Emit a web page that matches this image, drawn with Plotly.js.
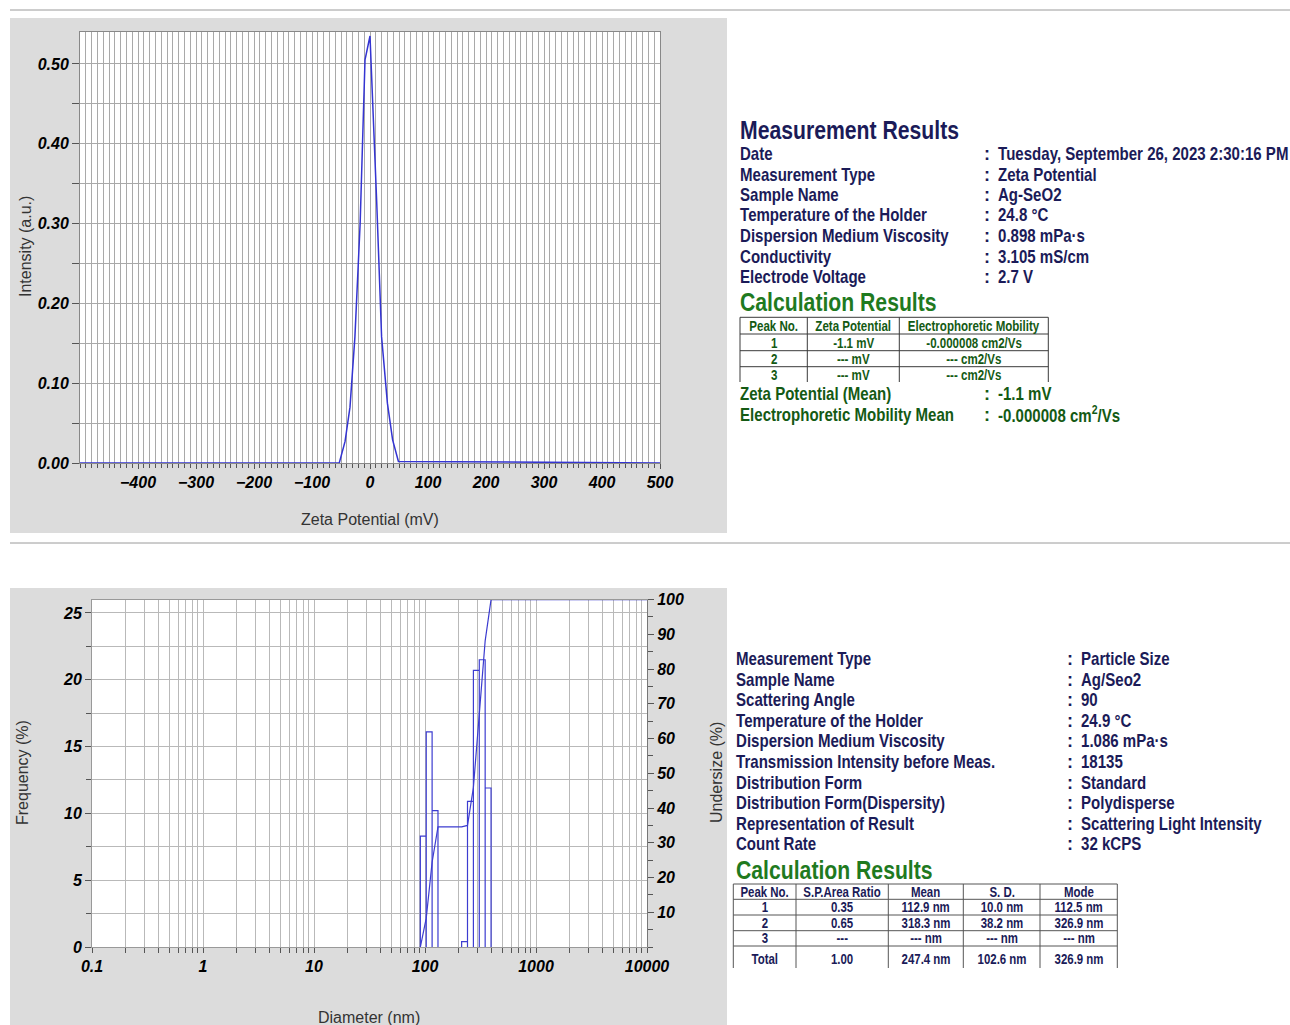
<!DOCTYPE html>
<html>
<head>
<meta charset="utf-8">
<script src="https://cdn.plot.ly/plotly-3.0.1.min.js"></script>
<style>
  html, body { margin: 0; padding: 0; background: #ffffff; }
  #chart { width: 1290px; height: 1025px; }
</style>
</head>
<body>
<div id="chart"></div>
<script>
// ---------------- DATA ----------------
// Zeta potential distribution
const zetaPotential = [-500, -53, -43, -34.5, -26, -17, -8.6, 0, 11.5, 20, 30, 39, 49, 500];
const intensity     = [0, 0, 0.027, 0.07, 0.158, 0.30, 0.505, 0.535, 0.328, 0.158, 0.075, 0.029, 0.002, 0];
const zetaTickValues = [-400, -300, -200, -100, 0, 100, 200, 300, 400, 500];

// Particle size distribution (histogram bins, nm)
const sizeBinEdges = [90.8, 102.6, 115.9, 130.9, 147.9, 167.5, 189.2, 213.8, 241.5, 272.9, 308.3, 348.3, 393.6];
const frequency    = [8.3, 16.1, 10.2, 0, 0, 0, 0, 0.4, 10.9, 20.7, 21.5, 11.9];
const undersizeDiameter = [90.8, 102.6, 115.9, 130.9, 213.8, 241.5, 272.9, 308.3, 348.3, 393.6, 10000];
const undersize         = [0, 8.3, 24.4, 34.6, 34.6, 35.0, 45.9, 66.6, 88.1, 100, 100];
const diameterDecades = [0.1, 1, 10, 100, 1000, 10000];
const diameterDecadeLabels = ['0.1', '1', '10', '100', '1000', '10000'];
const undersizeTickValues = [10, 20, 30, 40, 50, 60, 70, 80, 90, 100];

// Text blocks
const zetaInfoLabels = ['Date', 'Measurement Type', 'Sample Name', 'Temperature of the Holder',
  'Dispersion Medium Viscosity', 'Conductivity', 'Electrode Voltage'];
const zetaInfoValues = ['Tuesday, September 26, 2023 2:30:16 PM', 'Zeta Potential', 'Ag-SeO2', '24.8 °C',
  '0.898 mPa·s', '3.105 mS/cm', '2.7 V'];
const zetaTableHeader = ['Peak No.', 'Zeta Potential', 'Electrophoretic Mobility'];
const zetaTableRows = [['1', '-1.1 mV', '-0.000008 cm2/Vs'], ['2', '--- mV', '--- cm2/Vs'], ['3', '--- mV', '--- cm2/Vs']];
const zetaMeanLabels = ['Zeta Potential (Mean)', 'Electrophoretic Mobility Mean'];
const zetaMeanValues = ['-1.1 mV', '-0.000008 cm<sup>2</sup>/Vs'];

const sizeInfoLabels = ['Measurement Type', 'Sample Name', 'Scattering Angle', 'Temperature of the Holder',
  'Dispersion Medium Viscosity', 'Transmission Intensity before Meas.', 'Distribution Form',
  'Distribution Form(Dispersity)', 'Representation of Result', 'Count Rate'];
const sizeInfoValues = ['Particle Size', 'Ag/Seo2', '90', '24.9 °C', '1.086 mPa·s', '18135', 'Standard',
  'Polydisperse', 'Scattering Light Intensity', '32 kCPS'];
const sizeTableHeader = ['Peak No.', 'S.P.Area Ratio', 'Mean', 'S. D.', 'Mode'];
const sizeTableRows = [
  ['1', '0.35', '112.9 nm', '10.0 nm', '112.5 nm'],
  ['2', '0.65', '318.3 nm', '38.2 nm', '326.9 nm'],
  ['3', '---', '--- nm', '--- nm', '--- nm'],
  ['Total', '1.00', '247.4 nm', '102.6 nm', '326.9 nm']
];

// ---------------- LAYOUT HELPERS ----------------
const W = 1290, H = 1025;
const X = px => px / W;
const Y = py => 1 - py / H;

const BOLD = "'Liberation Sans', Arial, sans-serif";
const SANS = "'Liberation Sans', Arial, sans-serif";
const NAVY = '#1b1b58';
const GREEN = '#1f7a1f';
const DGREEN = '#145a14';

const tickFont = {family: SANS, size: 16, color: '#000', weight: 'bold', style: 'italic'};

const shapes = [];
const annotations = [];
const narrowIdx = {};   // annotation index -> [anchor type, horizontal scale]

function rect(x0, y0, x1, y1, color) {
  shapes.push({type: 'rect', xref: 'paper', yref: 'paper', layer: 'below',
    x0: X(x0), x1: X(x1), y0: Y(y1), y1: Y(y0), fillcolor: color, line: {width: 0}});
}
function line(x0, y0, x1, y1, color, w) {
  shapes.push({type: 'line', xref: 'paper', yref: 'paper', layer: 'above',
    x0: X(x0), x1: X(x1), y0: Y(y0), y1: Y(y1), line: {color: color, width: w || 1}});
}
function text(t, x, y, opts) {
  opts = opts || {};
  const anchor = opts.anchor || 'left';
  if (opts.scale) narrowIdx[annotations.length] = [anchor, opts.scale];
  annotations.push({text: t, xref: 'paper', yref: 'paper', x: X(x), y: Y(y),
    xanchor: anchor, yanchor: 'middle', showarrow: false,
    textangle: opts.angle || 0, borderpad: 0,
    font: {family: opts.family || BOLD, size: opts.size || 18, color: opts.color || NAVY,
      weight: opts.weight || 'bold'}});
}

// Panels and separators
rect(10, 18, 727, 533, '#dcdcdc');
rect(10, 588, 727, 1025, '#dcdcdc');
rect(80, 32, 660, 463, '#ffffff');
rect(92, 600, 647, 947, '#ffffff');
line(10, 10, 1290, 10, '#9a9a9a', 1);
line(10, 543, 1290, 543, '#9a9a9a', 1);

// Axis titles
text('Intensity (a.u.)', 25, 247, {family: SANS, size: 16, color: '#333', weight: 'normal', angle: -90, anchor: 'center'});
text('Zeta Potential (mV)', 370, 519, {family: SANS, size: 16, color: '#333', weight: 'normal', anchor: 'center'});
text('Frequency (%)', 22, 773, {family: SANS, size: 16, color: '#333', weight: 'normal', angle: -90, anchor: 'center'});
text('Undersize (%)', 716, 773, {family: SANS, size: 16, color: '#333', weight: 'normal', angle: -90, anchor: 'center'});
text('Diameter (nm)', 369, 1017, {family: SANS, size: 16, color: '#333', weight: 'normal', anchor: 'center'});

const S_INFO = 0.836, S_TITLE = 0.815;

// Top text block
text('Measurement Results', 739, 130, {size: 26, color: NAVY, scale: S_TITLE});
zetaInfoLabels.forEach((l, i) => {
  const y = 154 + i * 20.5;
  text(l, 739, y, {scale: S_INFO});
  text(':', 983, y);
  text(zetaInfoValues[i], 997, y, {scale: S_INFO});
});
text('Calculation Results', 739, 302, {size: 26, color: GREEN, scale: S_TITLE});
// top table
[317.3, 334, 350.7, 366.7].forEach(y => line(740, y, 1048.3, y, '#3a3a3a', 1));
[740, 807.3, 899.3, 1048.3].forEach(x => line(x, 317.3, x, 382, '#3a3a3a', 1));
const zCols = [773.7, 853.3, 973.8];
const zRows = [325.7, 342.3, 358.7, 374.3];
zetaTableHeader.forEach((t, j) => text(t, zCols[j], zRows[0], {size: 15, color: DGREEN, anchor: 'center', scale: 0.77}));
zetaTableRows.forEach((r, i) => r.forEach((t, j) => text(t, zCols[j], zRows[i + 1], {size: 15, color: DGREEN, anchor: 'center', scale: 0.77})));
zetaMeanLabels.forEach((l, i) => {
  const y = 394 + i * 20.5;
  text(l, 739, y, {color: DGREEN, scale: S_INFO});
  text(':', 983, y, {color: DGREEN});
  text(zetaMeanValues[i], 997, y, {color: DGREEN, scale: S_INFO});
});

// Bottom text block
sizeInfoLabels.forEach((l, i) => {
  const y = 659 + i * 20.6;
  text(l, 735, y, {scale: S_INFO});
  text(':', 1066, y);
  text(sizeInfoValues[i], 1080, y, {scale: S_INFO});
});
text('Calculation Results', 735, 870, {size: 26, color: GREEN, scale: S_TITLE});
[884, 899.3, 915, 930.7, 946].forEach(y => line(733.3, y, 1117.3, y, '#555', 1));
[733.3, 796, 888.3, 963.3, 1040, 1117.3].forEach(x => line(x, 884, x, 968, '#555', 1));
const sCols = [764.7, 842.2, 925.8, 1001.7, 1078.7];
const sRows = [891.7, 907.2, 922.9, 938.4, 959];
sizeTableHeader.forEach((t, j) => text(t, sCols[j], sRows[0], {size: 14.5, color: NAVY, anchor: 'center', scale: 0.79}));
sizeTableRows.forEach((r, i) => r.forEach((t, j) => text(t, sCols[j], sRows[i + 1], {size: 14.5, color: NAVY, anchor: 'center', scale: 0.79})));

// ---------------- TRACES ----------------
// histogram outline built from bins (break the path between non-adjacent bars)
const barX = [], barY = [];
let prev = -2;
frequency.forEach((f, i) => {
  if (f <= 0) return;
  if (prev !== i - 1 && barX.length) { barX.push(null); barY.push(null); }
  const L = sizeBinEdges[i], R = sizeBinEdges[i + 1];
  barX.push(L, L, R, R);
  barY.push(0, f, f, 0);
  prev = i;
});

const traces = [
  {x: zetaPotential, y: intensity, xaxis: 'x', yaxis: 'y', type: 'scatter', mode: 'lines',
   line: {color: '#3434d2', width: 1.5}, hoverinfo: 'skip'},
  {x: barX, y: barY, xaxis: 'x2', yaxis: 'y2', type: 'scatter', mode: 'lines', connectgaps: false,
   line: {color: '#3c3cd0', width: 1.2}, hoverinfo: 'skip'},
  {x: undersizeDiameter, y: undersize, xaxis: 'x2', yaxis: 'y3', type: 'scatter', mode: 'lines',
   line: {color: '#3c3cd0', width: 1.2}, hoverinfo: 'skip'}
];

const GRID = '#a9a9a9';
const GRID2 = '#b9b9b9';
const layout = {
  width: W, height: H,
  margin: {l: 0, r: 0, t: 0, b: 0},
  paper_bgcolor: 'rgba(0,0,0,0)', plot_bgcolor: 'rgba(0,0,0,0)',
  showlegend: false,
  xaxis: {
    domain: [X(80), X(660)], anchor: 'y', range: [-500, 500],
    tickmode: 'array', tickvals: zetaTickValues,
    ticks: 'outside', ticklen: 5, tickcolor: '#555',
    showgrid: true, gridcolor: GRID, gridwidth: 1,
    minor: {tickmode: 'linear', tick0: -500, dtick: 10, showgrid: true, gridcolor: GRID,
      ticks: 'outside', ticklen: 4, tickcolor: '#555'},
    showline: true, linecolor: '#888', mirror: true, zeroline: false,
    tickfont: tickFont
  },
  yaxis: {
    domain: [Y(463), Y(32)], anchor: 'x', range: [0, 0.54],
    tickmode: 'linear', tick0: 0, dtick: 0.1, tickformat: '.2f',
    ticks: 'outside', ticklen: 7, tickcolor: '#555',
    showgrid: true, gridcolor: GRID,
    minor: {tickmode: 'linear', tick0: 0, dtick: 0.05, showgrid: true, gridcolor: GRID,
      ticks: 'outside', ticklen: 7, tickcolor: '#555'},
    showline: true, linecolor: '#888', mirror: true, zeroline: false,
    tickfont: tickFont
  },
  xaxis2: {
    domain: [X(92), X(647)], anchor: 'y2', type: 'log', range: [-1, 4],
    tickmode: 'array', tickvals: diameterDecades, ticktext: diameterDecadeLabels,
    ticks: 'outside', ticklen: 5, tickcolor: '#555',
    showgrid: true, gridcolor: GRID2,
    minor: {dtick: 'D1', showgrid: true, gridcolor: GRID2, ticks: 'outside', ticklen: 5, tickcolor: '#555'},
    showline: true, linecolor: '#999', mirror: true, zeroline: false,
    tickfont: tickFont
  },
  yaxis2: {
    domain: [Y(947), Y(599.6)], anchor: 'x2', range: [0, 26],
    tickmode: 'linear', tick0: 0, dtick: 5,
    ticks: 'outside', ticklen: 6, tickcolor: '#555',
    showgrid: true, gridcolor: GRID2,
    minor: {tickmode: 'linear', tick0: 0, dtick: 2.5, showgrid: true, gridcolor: GRID2,
      ticks: 'outside', ticklen: 5, tickcolor: '#555'},
    showline: true, linecolor: '#999', mirror: true, zeroline: false,
    tickfont: tickFont
  },
  yaxis3: {
    overlaying: 'y2', side: 'right', anchor: 'x2', range: [0, 100],
    tickmode: 'array', tickvals: undersizeTickValues,
    ticks: 'outside', ticklen: 6, tickcolor: '#555',
    showgrid: false,
    minor: {tickmode: 'linear', tick0: 0, dtick: 5, showgrid: false,
      ticks: 'outside', ticklen: 5, tickcolor: '#555'},
    showline: true, linecolor: '#777', zeroline: false,
    tickfont: tickFont
  },
  shapes: shapes,
  annotations: annotations
};

// Give the info/table texts the condensed look of the original report font
function condense(gd) {
  gd.querySelectorAll('g.annotation').forEach(g => {
    const idx = g.getAttribute('data-index');
    if (!(idx in narrowIdx)) return;
    const t = g.querySelector('text.annotation-text');
    if (!t) return;
    const bb = t.getBBox();
    const anchor = narrowIdx[idx][0], s = narrowIdx[idx][1];
    const ax = anchor === 'center' ? bb.x + bb.width / 2 : bb.x;
    t.setAttribute('transform',
      'translate(' + ax + ',0) scale(' + s + ',1) translate(' + (-ax) + ',0)');
  });
}

Plotly.newPlot('chart', traces, layout, {displayModeBar: false, staticPlot: true})
  .then(gd => condense(gd));
</script>
</body>
</html>
